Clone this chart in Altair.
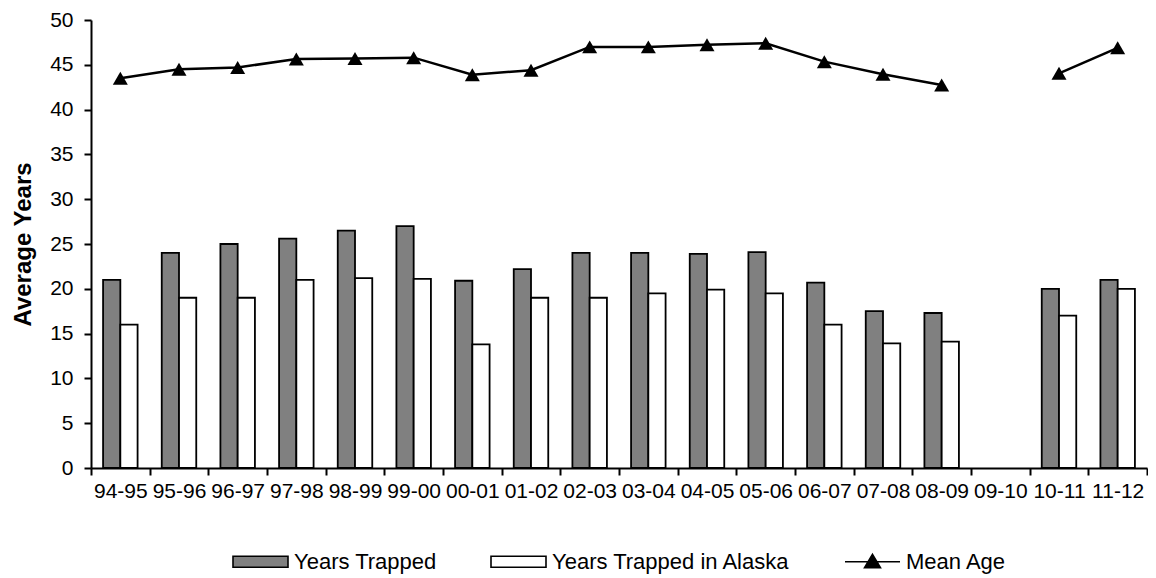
import altair as alt
import pandas as pd

# ---- data ----
seasons = ["94-95", "95-96", "96-97", "97-98", "98-99", "99-00", "00-01", "01-02",
           "02-03", "03-04", "04-05", "05-06", "06-07", "07-08", "08-09", "09-10",
           "10-11", "11-12"]
years_trapped = [21.0, 24.0, 25.0, 25.6, 26.5, 27.0, 20.9, 22.2, 24.0, 24.0,
                 23.9, 24.1, 20.7, 17.5, 17.3, None, 20.0, 21.0]
years_trapped_alaska = [16.0, 19.0, 19.0, 21.0, 21.2, 21.1, 13.8, 19.0, 19.0, 19.5,
                        19.9, 19.5, 16.0, 13.9, 14.1, None, 17.0, 20.0]
mean_age = [43.5, 44.5, 44.7, 45.65, 45.7, 45.8, 43.9, 44.4, 47.0, 47.0,
            47.25, 47.4, 45.35, 43.95, 42.75, None, 44.05, 46.9]
series_names = ["Years Trapped", "Years Trapped in Alaska", "Mean Age"]
y_ticks = list(range(0, 55, 5))

# ---- tables built from the arrays ----
bar_rows = []
for s, a, b in zip(seasons, years_trapped, years_trapped_alaska):
    bar_rows.append({"season": s, "series": series_names[0], "value": a})
    bar_rows.append({"season": s, "series": series_names[1], "value": b})
bars_df = pd.DataFrame(bar_rows)

line_rows = []
seg = 0
for s, v in zip(seasons, mean_age):
    if v is None:
        seg += 1
        continue
    line_rows.append({"season": s, "series": series_names[2], "value": v, "segment": seg})
line_df = pd.DataFrame(line_rows)

all_df = pd.concat([bars_df.dropna(), line_df.drop(columns="segment")], ignore_index=True)

FONT = "Liberation Sans"

x_enc = alt.X(
    "season:N",
    sort=seasons,
    scale=alt.Scale(domain=seasons, paddingInner=0, paddingOuter=0),
    axis=alt.Axis(title=None, labelAngle=0, tickBand="extent", labelPadding=5),
)
y_enc = alt.Y(
    "value:Q",
    scale=alt.Scale(domain=[0, 50], nice=False),
    axis=alt.Axis(
        title="Average Years", values=y_ticks, labelPadding=11,
        titleX=-61, titleY=224, titleAngle=270, titleAlign="center",
        titleBaseline="alphabetic", titleFontWeight="bold", titleFontSize=24,
    ),
)

legend_def = alt.Legend(
    title=None, orient="none", legendX=141, legendY=513, direction="horizontal",
    labelFontSize=22, labelFont=FONT, labelColor="black", labelOffset=5,
    labelLimit=500, symbolSize=3025, symbolStrokeColor="black",
    symbolStrokeWidth=1.6, symbolOpacity=1, columnPadding=50, padding=0,
)

rect_path = "M-1,-0.2H1V0.2H-1Z"
tri_path = "M-1,0H1M0,-0.27L0.29,0.22L-0.29,0.22Z"

bars = alt.Chart(bars_df).mark_bar(stroke="black", strokeWidth=1.8, opacity=1).encode(
    x=x_enc,
    y=y_enc,
    xOffset=alt.XOffset(
        "series:N",
        scale=alt.Scale(domain=series_names[:2], paddingInner=0, paddingOuter=0.7),
    ),
    fill=alt.Fill(
        "series:N",
        scale=alt.Scale(domain=series_names, range=["#808080", "#ffffff", "#000000"]),
        legend=legend_def,
    ),
)

legend_layer = alt.Chart(all_df).mark_point(size=0, strokeWidth=0, opacity=1).encode(
    x=x_enc,
    y=y_enc,
    shape=alt.Shape(
        "series:N",
        scale=alt.Scale(domain=series_names, range=[rect_path, rect_path, tri_path]),
        legend=legend_def,
    ),
)

line = alt.Chart(line_df).mark_line(color="black", strokeWidth=2.5).encode(
    x=x_enc,
    y=y_enc,
    detail="segment:N",
)

points = alt.Chart(line_df).mark_point(
    shape="triangle-up", filled=True, color="black", size=225, opacity=1
).encode(
    x=x_enc,
    y=y_enc,
)

chart = (
    alt.layer(bars, legend_layer, line, points)
    .properties(
        width=1056,
        height=448,
        autosize=alt.AutoSizeParams(type="none"),
        padding={"left": 83, "top": 12, "right": 1, "bottom": 110},
    )
    .configure_view(stroke=None)
    .configure_axis(
        grid=False, domainColor="black", domainWidth=2, tickColor="black",
        tickWidth=2, tickSize=7, labelColor="black", labelFont=FONT,
        labelFontSize=21, titleFont=FONT, titleColor="black",
    )
    .configure_legend(labelFont=FONT)
)

chart.save("out.html", embed_options={"renderer": "svg", "actions": False})
